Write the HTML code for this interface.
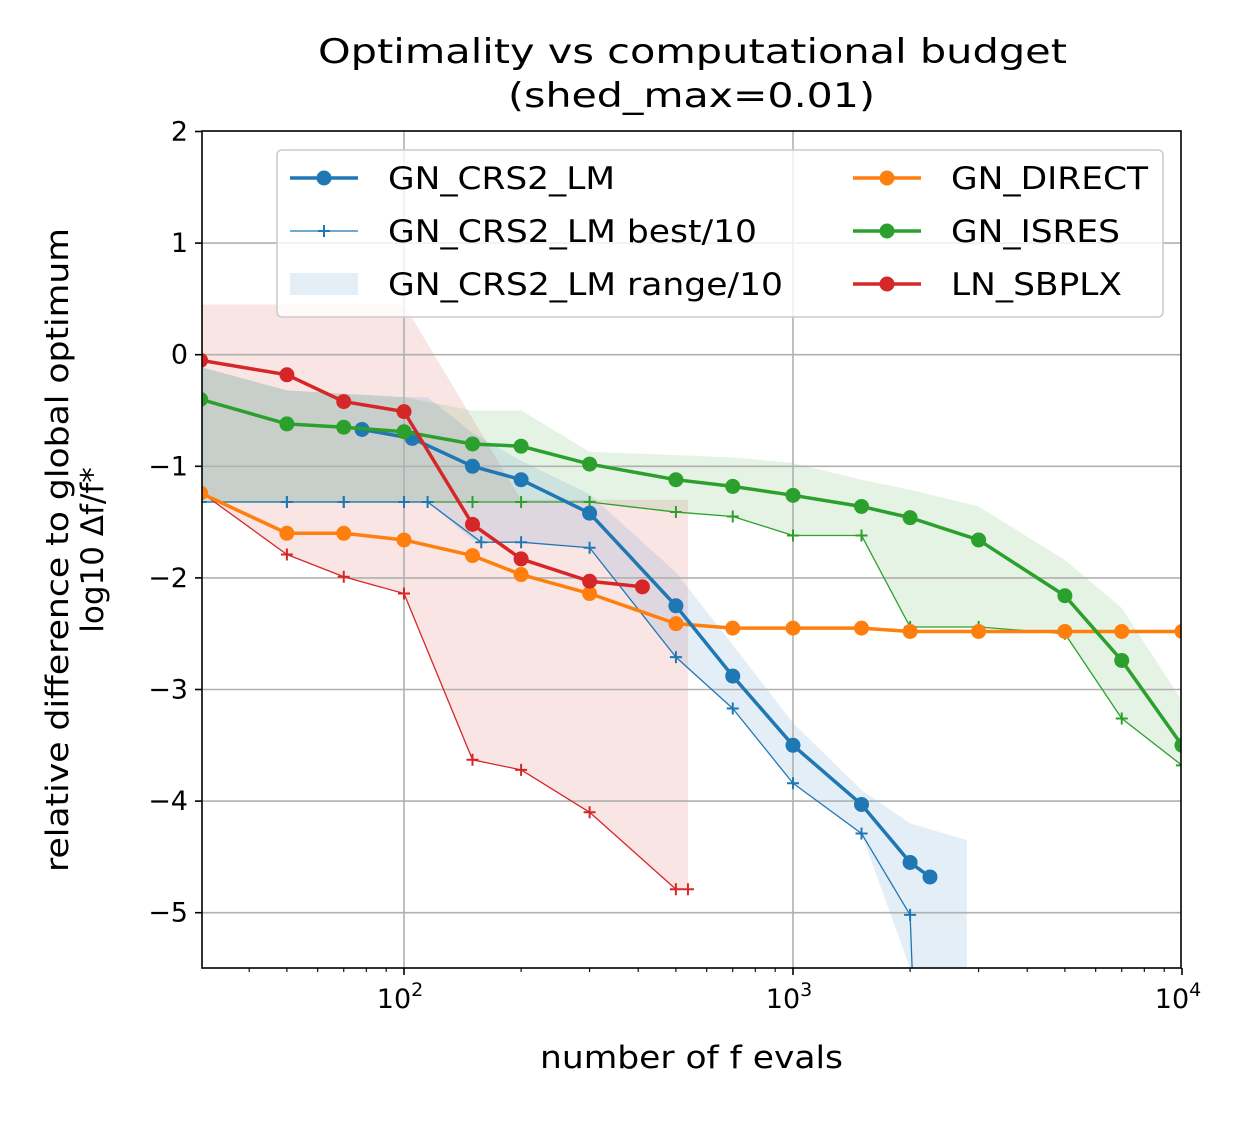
<!DOCTYPE html>
<html><head><meta charset="utf-8"><style>
body{margin:0;background:#fff;}
svg text{font-family:"DejaVu Sans","Liberation Sans",sans-serif;fill:#000;}
</style></head><body>
<svg id="chart" width="1250" height="1125" xmlns="http://www.w3.org/2000/svg">
<rect width="1250" height="1125" fill="#fff"/>
<g id="fills"></g><g id="grid"></g><g id="series"></g><g id="axes"></g><g id="legend"></g>
</svg>
<script>
const xs=[30,50,70,100,150,200,300,500,700,1000,1500,2000,3000,5000,7000,10000];
const directY=[-1.24,-1.6,-1.6,-1.66,-1.8,-1.97,-2.14,-2.41,-2.45,-2.45,-2.45,-2.48,-2.48,-2.48,-2.48,-2.48];
const isresY=[-0.4,-0.62,-0.65,-0.69,-0.8,-0.82,-0.98,-1.12,-1.18,-1.26,-1.36,-1.46,-1.66,-2.16,-2.74,-3.5];
const isresBest=[-1.32,-1.32,-1.32,-1.32,-1.32,-1.32,-1.32,-1.41,-1.45,-1.62,-1.62,-2.44,-2.44,-2.5,-3.26,-3.68];
const isresUpper=[-0.11,-0.32,-0.35,-0.38,-0.5,-0.5,-0.87,-0.9,-0.92,-0.97,-1.12,-1.21,-1.36,-1.84,-2.27,-3.1];
const crsX=[78,105,150,200,300,500,700,1000,1500,2000,2250];
const crsY=[-0.67,-0.75,-1.0,-1.12,-1.42,-2.25,-2.88,-3.5,-4.03,-4.55,-4.68];
const crsBestX=[30,50,70,100,115,158,200,300,500,700,1000,1500,2000,2050];
const crsBestY=[-1.32,-1.32,-1.32,-1.32,-1.32,-1.68,-1.68,-1.73,-2.71,-3.17,-3.84,-4.29,-5.02,-6];
const crsRangeX=[30,50,100,115,150,200,300,500,700,1000,1500,2000,2800];
const crsUpper=[-0.11,-0.32,-0.38,-0.38,-0.7,-0.95,-1.25,-1.95,-2.6,-3.3,-3.9,-4.2,-4.35];
const crsLower=[-1.32,-1.32,-1.32,-1.32,-1.66,-1.68,-1.73,-2.71,-3.17,-3.84,-4.29,-5.5,-5.5];
const sbX=[30,50,70,100,150,200,300,410];
const sbY=[-0.05,-0.18,-0.42,-0.51,-1.52,-1.83,-2.03,-2.08];
const sbBestX=[30,50,70,100,150,200,300,500,537];
const sbBestY=[-1.23,-1.79,-1.99,-2.14,-3.63,-3.72,-4.1,-4.79,-4.79];
const sbRangeX=[30,100,200,537];
const sbUpper=[0.45,0.45,-1.3,-1.3];
const sbRangeLowX=[30,50,70,100,150,200,300,500,537];
const sbLower=[-1.23,-1.79,-1.99,-2.14,-3.63,-3.72,-4.1,-4.79,-4.79];
const yTicks=[2,1,0,-1,-2,-3,-4,-5];
const xTickExp=[2,3,4];

const L=202,R=1181,T=131,B=968;
const X=v=>404+389*(Math.log10(v)-2);
const Y=v=>354.7-111.6*v;
const NS="http://www.w3.org/2000/svg";
function el(tag,attrs,parent){const e=document.createElementNS(NS,tag);for(const k in attrs)e.setAttribute(k,attrs[k]);parent.appendChild(e);return e;}
const g={fills:document.getElementById('fills'),grid:document.getElementById('grid'),series:document.getElementById('series'),axes:document.getElementById('axes'),legend:document.getElementById('legend')};
const clip=el('clipPath',{id:'pc'},document.getElementById('chart'));el('rect',{x:L,y:T,width:R-L,height:B-T},clip);
g.fills.setAttribute('clip-path','url(#pc)');g.series.setAttribute('clip-path','url(#pc)');

function band(ux,uy,lx,ly,color,name){
  let pts=ux.map((x,i)=>X(x)+','+Y(uy[i]));
  for(let i=lx.length-1;i>=0;i--)pts.push(X(lx[i])+','+Y(Math.max(ly[i],-5.6)));
  const p=el('polygon',{points:pts.join(' '),fill:color,'fill-opacity':0.12},g.fills);
  
}
band(sbRangeX,sbUpper,sbRangeLowX,sbLower,'#d62728','sbplx-range');
band(xs,isresUpper,xs,isresBest,'#2ca02c','isres-range');
band(crsRangeX,crsUpper,crsRangeX,crsLower,'#1f77b4','crs2-range');

[20,30,40,50,60,70,80,90,100,200,300,400,500,600,700,800,900,1000,2000,3000,4000,5000,6000,7000,8000,9000,10000].forEach(v=>{
  const x=X(v);const major=[100,1000,10000].includes(v);
  if(x<L-0.5)return;
  if(major&&v<10000){const l=el('line',{x1:x,x2:x,y1:T,y2:B,stroke:'#b0b0b0','stroke-width':1.6},g.grid);}
  el('line',{x1:x,x2:x,y1:B,y2:B+(major?7:4),stroke:'#000','stroke-width':major?1.6:1.1},g.axes);
});
xTickExp.forEach(e=>{
  const t=el('text',{x:X(Math.pow(10,e))-4,y:B+40,'font-size':27,'text-anchor':'middle'},g.axes);
  t.innerHTML='10<tspan dy="-12" font-size="19">'+e+'</tspan>';
  
});
yTicks.forEach(v=>{
  const y=Y(v);
  if(v<2){const l=el('line',{x1:L,x2:R,y1:y,y2:y,stroke:'#b0b0b0','stroke-width':1.6},g.grid);}
  el('line',{x1:L-7,x2:L,y1:y,y2:y,stroke:'#000','stroke-width':1.6},g.axes);
  const t=el('text',{x:L-14,y:y+9,'font-size':27,'text-anchor':'end'},g.axes);
  t.textContent=v<0?'\u2212'+(-v):String(v);
  
});
const fr=el('rect',{x:L,y:T,width:R-L,height:B-T,fill:'none',stroke:'#000','stroke-width':1.6},g.axes);


function line(xa,ya,color,w,marker,name){
  const pts=xa.map((x,i)=>X(x)+','+Y(ya[i])).join(' ');
  const pl=el('polyline',{points:pts,fill:'none',stroke:color,'stroke-width':w,'stroke-linejoin':'round'},g.series);
  
  xa.forEach((x,i)=>{
    const cx=X(x),cy=Y(ya[i]);
    if(marker==='o'){const c=el('circle',{cx:cx,cy:cy,r:7.5,fill:color},g.series);}
    else{const p=el('path',{d:`M${cx-6},${cy}H${cx+6}M${cx},${cy-6}V${cy+6}`,stroke:color,'stroke-width':2},g.series);}
  });
}
line(xs,isresBest,'#2ca02c',1.3,'+','isres-best');
line(crsBestX,crsBestY,'#1f77b4',1.3,'+','crs2-best');
line(sbBestX,sbBestY,'#d62728',1.3,'+','sbplx-best');
line(xs,directY,'#ff7f0e',3.5,'o','direct');
line(crsX,crsY,'#1f77b4',3.5,'o','crs2');
line(xs,isresY,'#2ca02c',3.5,'o','isres');
line(sbX,sbY,'#d62728',3.5,'o','sbplx');

const lb=el('rect',{x:277,y:150,width:886,height:167,rx:5,fill:'#fff','fill-opacity':0.8,stroke:'#ccc','stroke-width':1.6},g.legend);

const entries=[[290,178,'#1f77b4','o','GN_CRS2_LM',227],[290,231,'#1f77b4','+','GN_CRS2_LM best/10',369],[290,284,'#1f77b4','f','GN_CRS2_LM range/10',395],[853,178,'#ff7f0e','o','GN_DIRECT',197],[853,231,'#2ca02c','o','GN_ISRES',169],[853,284,'#d62728','o','LN_SBPLX',171]];
entries.forEach(e=>{
  const [x,y,c,m,label,w]=e;
  const grp=el('g',{},g.legend);
  
  if(m==='f'){el('rect',{x:x,y:y-11,width:68,height:22,fill:c,'fill-opacity':0.12},grp);}
  else{el('line',{x1:x,x2:x+68,y1:y,y2:y,stroke:c,'stroke-width':m==='o'?3.5:1.3},grp);
    if(m==='o')el('circle',{cx:x+34,cy:y,r:7.5,fill:c},grp);
    else el('path',{d:`M${x+28},${y}H${x+40}M${x+34},${y-6}V${y+6}`,stroke:c,'stroke-width':2},grp);}
  const t=el('text',{x:x+98,y:y+11,'font-size':31,textLength:w,lengthAdjust:'spacingAndGlyphs'},grp);t.textContent=label;
});
</script>
<svg style="position:absolute;left:0;top:0" width="1250" height="1125" xmlns="http://www.w3.org/2000/svg">
<text x="318" y="63" font-size="34" textLength="749" lengthAdjust="spacingAndGlyphs">Optimality vs computational budget</text>
<text x="508" y="107" font-size="34" textLength="367" lengthAdjust="spacingAndGlyphs">(shed_max=0.01)</text>
<text x="540" y="1068" font-size="31" textLength="303" lengthAdjust="spacingAndGlyphs">number of f evals</text>
<text transform="translate(68,872) rotate(-90)" font-size="31" textLength="644" lengthAdjust="spacingAndGlyphs">relative difference to global optimum</text>
<text transform="translate(103,550) rotate(-90)" font-size="31" text-anchor="middle">log10 Δf/f*</text>
</svg>
</body></html>
